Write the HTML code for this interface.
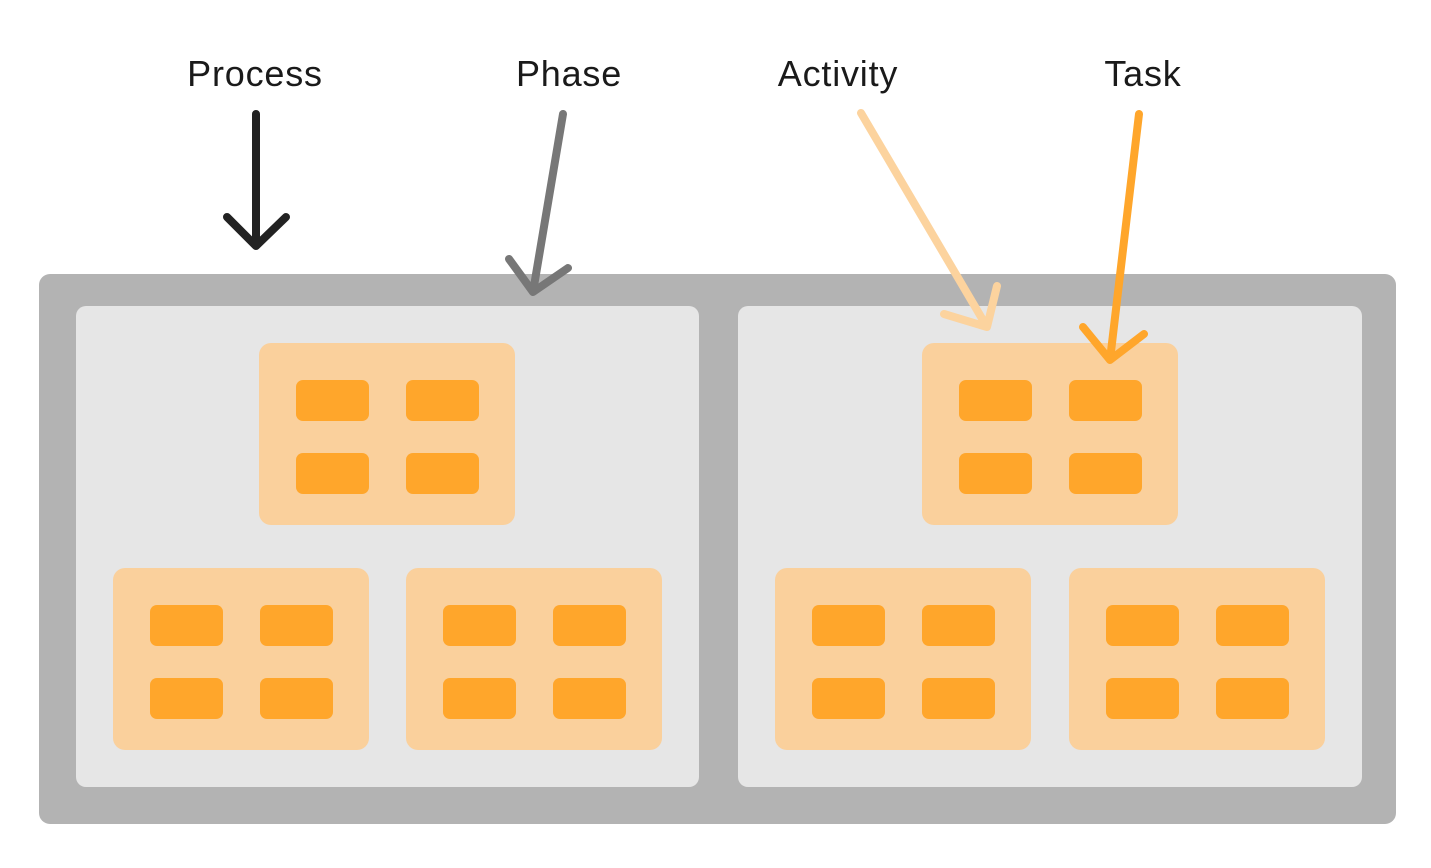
<!DOCTYPE html>
<html><head><style>
html,body{margin:0;padding:0;background:#fff;width:1431px;height:868px;overflow:hidden}
</style></head><body>
<svg width="1431" height="868" xmlns="http://www.w3.org/2000/svg">
<rect x="39" y="274" width="1357" height="550" rx="11" fill="#b3b3b3"/>
<rect x="76" y="306" width="623" height="481" rx="10" fill="#e6e6e6"/>
<rect x="738" y="306" width="624" height="481" rx="10" fill="#e6e6e6"/>
<g fill="#fad09c">
<rect x="259" y="343" width="256" height="182" rx="12"/>
<rect x="113" y="568" width="256" height="182" rx="12"/>
<rect x="406" y="568" width="256" height="182" rx="12"/>
<rect x="922" y="343" width="256" height="182" rx="12"/>
<rect x="775" y="568" width="256" height="182" rx="12"/>
<rect x="1069" y="568" width="256" height="182" rx="12"/>
</g>
<g fill="#ffa62b">
<rect x="296" y="380" width="73" height="41" rx="7"/><rect x="406" y="380" width="73" height="41" rx="7"/>
<rect x="296" y="453" width="73" height="41" rx="7"/><rect x="406" y="453" width="73" height="41" rx="7"/>
<rect x="150" y="605" width="73" height="41" rx="7"/><rect x="260" y="605" width="73" height="41" rx="7"/>
<rect x="150" y="678" width="73" height="41" rx="7"/><rect x="260" y="678" width="73" height="41" rx="7"/>
<rect x="443" y="605" width="73" height="41" rx="7"/><rect x="553" y="605" width="73" height="41" rx="7"/>
<rect x="443" y="678" width="73" height="41" rx="7"/><rect x="553" y="678" width="73" height="41" rx="7"/>
<rect x="959" y="380" width="73" height="41" rx="7"/><rect x="1069" y="380" width="73" height="41" rx="7"/>
<rect x="959" y="453" width="73" height="41" rx="7"/><rect x="1069" y="453" width="73" height="41" rx="7"/>
<rect x="812" y="605" width="73" height="41" rx="7"/><rect x="922" y="605" width="73" height="41" rx="7"/>
<rect x="812" y="678" width="73" height="41" rx="7"/><rect x="922" y="678" width="73" height="41" rx="7"/>
<rect x="1106" y="605" width="73" height="41" rx="7"/><rect x="1216" y="605" width="73" height="41" rx="7"/>
<rect x="1106" y="678" width="73" height="41" rx="7"/><rect x="1216" y="678" width="73" height="41" rx="7"/>
</g>
<g fill="none" stroke-width="8" stroke-linecap="round" stroke-linejoin="round">
<path d="M256 114 L256 246 M227 217 L256 246 L286 217" stroke="#222"/>
<path d="M563 114 L533 292 M509 259 L533 292 L568 268" stroke="#777"/>
<path d="M861 113 L987 327 M944 314 L987 327 L997 286" stroke="#fcd39e"/>
<path d="M1139 114 L1110 360 M1083 327 L1110 360 L1144 334" stroke="#ffa62b"/>
</g>
<g font-family="Liberation Sans, sans-serif" font-size="36" letter-spacing="0.8" fill="#1a1a1a" text-anchor="middle">
<text x="255" y="86">Process</text>
<text x="569" y="86">Phase</text>
<text x="838" y="86">Activity</text>
<text x="1143" y="86">Task</text>
</g>
</svg>
</body></html>
